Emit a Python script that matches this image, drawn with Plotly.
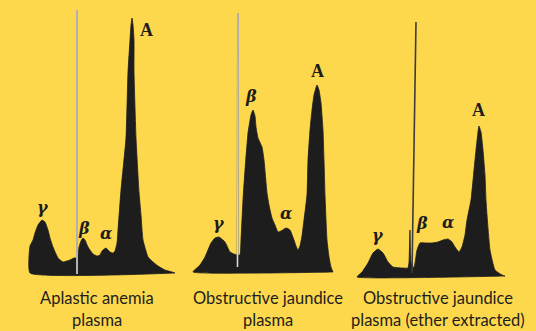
import plotly.graph_objects as go

# Densitometer tracings of paper-electrophoresis strips.
# x: distance along the strip, y: optical density (arbitrary units).
aplastic_x = [5, 5, 8, 10, 13, 17, 20, 23, 25, 28, 33, 38, 45, 49, 51, 53, 54, 56, 58, 60,
              63, 68, 72, 75, 77, 81, 85, 88, 90, 92, 93, 96, 101, 103, 105, 106, 107, 108,
              109, 109, 111, 114, 116, 118, 123, 128, 133, 140, 147, 150]
aplastic_y = [2, 29, 35, 42, 50, 55, 53, 45, 37, 28, 17, 13, 15, 17, 17, 20, 28, 34, 37, 35,
              28, 21, 19, 20, 24, 27, 23, 22, 24, 32, 45, 85, 137, 203, 235, 250, 257, 250,
              235, 203, 137, 83, 60, 35, 18, 13, 9, 5, 3, 2]

jaundice_x = [8, 15, 20, 26, 30, 34, 40, 45, 49, 52, 55, 56, 58, 60, 63, 66, 68, 70, 71, 73,
              77, 79, 82, 84, 87, 90, 93, 96, 101, 105, 109, 111, 113, 115, 117, 119, 122,
              123, 125, 127, 129, 132, 134, 136, 138, 139, 140, 142, 144, 146, 148]
jaundice_y = [3, 10, 18, 32, 37, 38, 33, 23, 21, 20, 20, 35, 75, 105, 142, 160, 165, 159, 148,
              137, 128, 115, 82, 70, 57, 50, 43, 44, 47, 45, 35, 29, 25, 29, 39, 55, 80, 115,
              145, 165, 180, 190, 185, 172, 145, 115, 80, 35, 18, 8, 3]

ether_x = [7, 12, 18, 23, 28, 33, 38, 43, 52, 58, 59, 60, 61, 64, 67, 70, 76, 82, 88, 93, 98,
           102, 105, 109, 112, 115, 117, 121, 124, 126, 128, 129, 131, 133, 135, 136, 137,
           140, 145, 152, 155]
ether_y = [-2, 3, 12, 22, 26, 22, 13, 8, 7, 7, 13, 45, 13, 7, 25, 32, 32, 32, 33, 35, 36, 33,
           28, 23, 28, 40, 55, 75, 105, 125, 143, 149, 143, 125, 100, 75, 60, 25, 5, 0, -1]

# Application (origin) line of each strip: bottom and top ends
aplastic_origin_x = [52, 52]
aplastic_origin_y = [1, 265]
jaundice_origin_x = [52.5, 53]
jaundice_origin_y = [8, 262]
ether_origin_x = [62, 66]
ether_origin_y = [2, 253]

fraction_names = ["γ", "β", "α", "A"]
caption_lines = [
    ["Aplastic anemia", "plasma"],
    ["Obstructive jaundice", "plasma"],
    ["Obstructive jaundice", "plasma (ether extracted)"],
]

# ---- styling / layout -------------------------------------------------------
W, H = 536, 331
BG = "#FDD84C"
INK = "#1d1d1d"
panel_px = [(25, 180), (185, 340), (350, 510)]   # horizontal pixel span of each panel
y_range = [-56, 275]

# label placement (x, y) in panel units for γ, β, α, A
label_pos = [
    [(18, 68), (59, 47), (81, 42), (121, 245)],
    [(34, 52), (66, 179), (101, 62), (132, 204)],
    [(28, 40), (72, 52), (98, 53), (128, 165)],
]
caption_x = [72, 83, 88]
caption_y = [-23, -45]

traces = [
    (aplastic_x, aplastic_y, aplastic_origin_x, aplastic_origin_y, "light"),
    (jaundice_x, jaundice_y, jaundice_origin_x, jaundice_origin_y, "light"),
    (ether_x, ether_y, ether_origin_x, ether_origin_y, "dark"),
]

fig = go.Figure()
annotations = []
for i, (xs, ys, lx, ly, line_kind) in enumerate(traces):
    xa = "x" if i == 0 else f"x{i + 1}"
    # close the outline along the baseline
    px = list(xs) + [xs[-1], xs[0]]
    py = list(ys) + [ys[-1], ys[0]]
    fig.add_trace(go.Scatter(x=px, y=py, xaxis=xa, yaxis="y", mode="lines",
                             fill="toself", fillcolor=INK,
                             line=dict(color=INK, width=0.8, shape="spline", smoothing=0.4),
                             hoverinfo="skip", showlegend=False))
    if line_kind == "light":
        fig.add_trace(go.Scatter(x=lx, y=ly, xaxis=xa, yaxis="y", mode="lines",
                                 line=dict(color="#8a8a8a", width=2.0),
                                 hoverinfo="skip", showlegend=False))
        fig.add_trace(go.Scatter(x=lx, y=ly, xaxis=xa, yaxis="y", mode="lines",
                                 line=dict(color="#eeeeee", width=0.8),
                                 hoverinfo="skip", showlegend=False))
    else:
        fig.add_trace(go.Scatter(x=lx, y=ly, xaxis=xa, yaxis="y", mode="lines",
                                 line=dict(color="#3c3c3c", width=1.6),
                                 hoverinfo="skip", showlegend=False))

    for name, (ax_, ay_) in zip(fraction_names, label_pos[i]):
        if name == "A":
            txt, fnt = "<b>A</b>", dict(family="Liberation Serif", size=18, color=INK)
        else:
            txt, fnt = f"<b><i>{name}</i></b>", dict(family="DejaVu Serif", size=16, color=INK)
        annotations.append(dict(x=ax_, y=ay_, xref=xa, yref="y", text=txt, showarrow=False,
                                font=fnt, xanchor="center", yanchor="middle"))
    for line_text, cy in zip(caption_lines[i], caption_y):
        annotations.append(dict(x=caption_x[i], y=cy, xref=xa, yref="y", text=line_text,
                                showarrow=False, xanchor="center", yanchor="middle",
                                font=dict(family="Lato", size=16.5, color="#1e1e1e")))

axis_common = dict(visible=False, showgrid=False, zeroline=False, fixedrange=True)
layout = dict(
    width=W, height=H, margin=dict(l=0, r=0, t=0, b=0),
    paper_bgcolor=BG, plot_bgcolor=BG,
    yaxis=dict(range=y_range, domain=[0, 1], **axis_common),
    annotations=annotations,
)
for i, (l, r) in enumerate(panel_px):
    key = "xaxis" if i == 0 else f"xaxis{i + 1}"
    layout[key] = dict(range=[0, r - l], domain=[l / W, r / W], anchor="y", **axis_common)

fig.update_layout(**layout)
fig.write_html("out.html")
